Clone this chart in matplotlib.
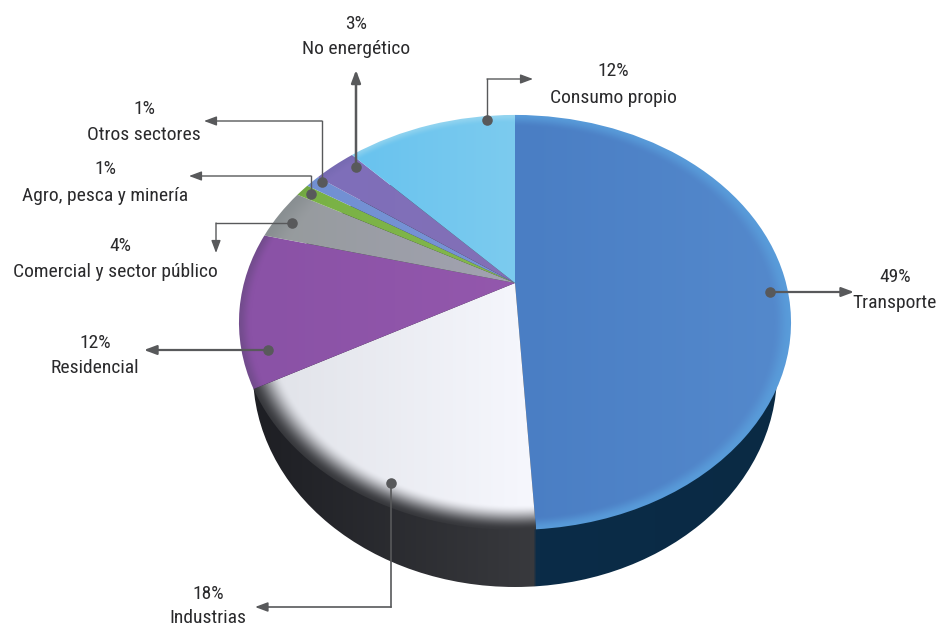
import numpy as np
import matplotlib
matplotlib.use("Agg")
import matplotlib.pyplot as plt
from matplotlib.patches import Ellipse
from matplotlib.path import Path
from matplotlib.transforms import Transform
from matplotlib.colors import to_rgb

# ---- data -----------------------------------------------------------------
categories = ["Transporte", "Industrias", "Residencial",
              "Comercial y sector público", "Agro, pesca y minería",
              "Otros sectores", "No energético", "Consumo propio"]
shares = [49, 18, 12, 4, 1, 1, 3, 12]

# ---- look -----------------------------------------------------------------
W, H = 937, 627
FONT = ["Roboto Condensed", "DejaVu Sans"]
TXT = "#2a2a2c"
LEAD = "#58595b"

# (left colour, right colour, ramp start x, ramp end x, rim colour, rim start, rim strength)
slice_styles = [
    ("#4a7ec4", "#5489cc", 520, 780, "#5a9fdc", 0.94, 0.85),
    ("#e0e2e8", "#f6f7fd", 260, 530, "#2e2f33", 0.88, 0.95),
    ("#8a52a6", "#9458ad", 260, 530, "#6c4a86", 0.95, 0.8),
    ("#959a9b", "#a3a3b4", 260, 530, "#80878a", 0.90, 0.6),
    ("#76b043", "#86b84e", 260, 530, "#6a9a40", 0.95, 0.5),
    ("#6f8fd2", "#7a94d6", 260, 530, "#6f8fd2", 0.95, 0.0),
    ("#7d6ebb", "#8370b6", 260, 530, "#6f66aa", 0.95, 0.5),
    ("#69c3ee", "#7ccbef", 360, 515, "#a6dcf0", 0.96, 0.6),
]

# perspective of the disc: apex, half width and near/far reach, in pixels
APEX = (515.0, 283.0)
K, A, B = 0.19, 271.0, 200.0
DISC = (514.0, 322.0, 276.0, 207.5)
BASE = (515.0, 373.0, 262.0, 214.0)
SPLIT_X = 535.0


class Perspective(Transform):
    input_dims = output_dims = 2
    is_separable = False
    has_inverse = False

    def transform_non_affine(self, xy):
        xy = np.asarray(xy, float)
        d = 1 + K * xy[:, 1]
        return np.column_stack([APEX[0] + A * xy[:, 0] / d,
                                APEX[1] - B * xy[:, 1] / d])

    def transform_path_non_affine(self, path):
        return Path(self.transform_non_affine(path.vertices), path.codes)


fig = plt.figure(figsize=(W / 100, H / 100), dpi=100, facecolor="white")
ax = fig.add_axes([0, 0, 1, 1])

# pixel grids for shading
xx, yy = np.meshgrid(np.arange(W) + 0.5, np.arange(H) + 0.5)


def ramp(c0, c1, lo, hi):
    t = np.clip((xx - lo) / (hi - lo), 0, 1)[..., None]
    return np.array(to_rgb(c0)) * (1 - t) + np.array(to_rgb(c1)) * t


# ---- side wall ------------------------------------------------------------
side = ramp("#1e1f24", "#38393d", 260, 530)
right = ramp("#0b2c48", "#0a2a44", 540, 770)
blend = np.clip((xx - SPLIT_X + 1.5) / 3, 0, 1)[..., None]
side = side * (1 - blend) + right * blend
wall = Ellipse(BASE[:2], 2 * BASE[2], 2 * BASE[3], fc="none", ec="none",
               transform=ax.transData)
ax.add_patch(wall)
im = ax.imshow(side, extent=(0, W, H, 0), aspect="auto", zorder=1)
im.set_clip_path(wall)

# ---- top face: real pie wedges, pushed through the perspective -------------
wedges, _ = ax.pie(shares, startangle=90, counterclock=False, radius=1,
                   center=(0, 0), frame=False)
ax.set_aspect("auto")
persp = Perspective() + ax.transData
rr = np.hypot((xx - DISC[0]) / DISC[2], (yy - DISC[1]) / DISC[3])
for w, (c0, c1, lo, hi, rim, start, power) in zip(wedges, slice_styles):
    w.set_transform(persp)
    w.set_facecolor("none")
    w.set_edgecolor("none")
    w.set_zorder(2)
    img = ramp(c0, c1, lo, hi)
    t = np.clip((rr - start) / (1.0 - start), 0, 1)[..., None]
    t = t * t * (3 - 2 * t) * power
    img = img * (1 - t) + np.array(to_rgb(rim)) * t
    m = ax.imshow(img, extent=(0, W, H, 0), aspect="auto", zorder=2)
    m.set_clip_path(w)

# ---- leaders --------------------------------------------------------------
# (points from the dot to the arrow tip, line width)
leaders = [
    ([(770, 292), (854, 292)], 1.6),
    ([(391, 483), (391, 607), (255, 607)], 1.2),
    ([(268, 350), (144, 350)], 1.6),
    ([(292, 223), (216, 223), (216, 253)], 1.0),
    ([(311, 194), (311, 176), (189, 176)], 1.0),
    ([(322, 182), (322, 121), (204, 121)], 1.0),
    ([(356, 167), (356, 70)], 1.8),
    ([(487, 120), (487, 79), (533, 79)], 1.0),
]
for pts, lw in leaders:
    px, py = zip(*pts)
    ax.plot(px[:-1], py[:-1], color=LEAD, lw=lw, zorder=5, solid_capstyle="projecting")
    ax.annotate("", xy=pts[-1], xytext=pts[-2], zorder=5,
                arrowprops=dict(arrowstyle="-|>,head_length=0.75,head_width=0.28",
                                color=LEAD, lw=lw, shrinkA=0, shrinkB=0))
    ax.plot(px[0], py[0], "o", ms=7.6, mfc=LEAD, mec="none", zorder=6)

# ---- labels ---------------------------------------------------------------
label_pos = [
    ((895, 277), (895, 303)),
    ((208, 594), (208, 618)),
    ((95, 343), (95, 368)),
    ((120, 246), (115, 272)),
    ((105, 169), (105, 196)),
    ((144, 109), (144, 135)),
    ((356, 24), (356, 49)),
    ((613, 71), (613, 98)),
]
for cat, val, (p, n) in zip(categories, shares, label_pos):
    for txt, (x, y) in ((f"{val}%", p), (cat, n)):
        ax.text(x, y, txt, ha="center", va="center", fontsize=14.0,
                family=FONT, weight=400, color=TXT, zorder=7)

ax.set_xlim(0, W)
ax.set_ylim(H, 0)
ax.axis("off")
fig.savefig("out.png", dpi=100, facecolor="white")
